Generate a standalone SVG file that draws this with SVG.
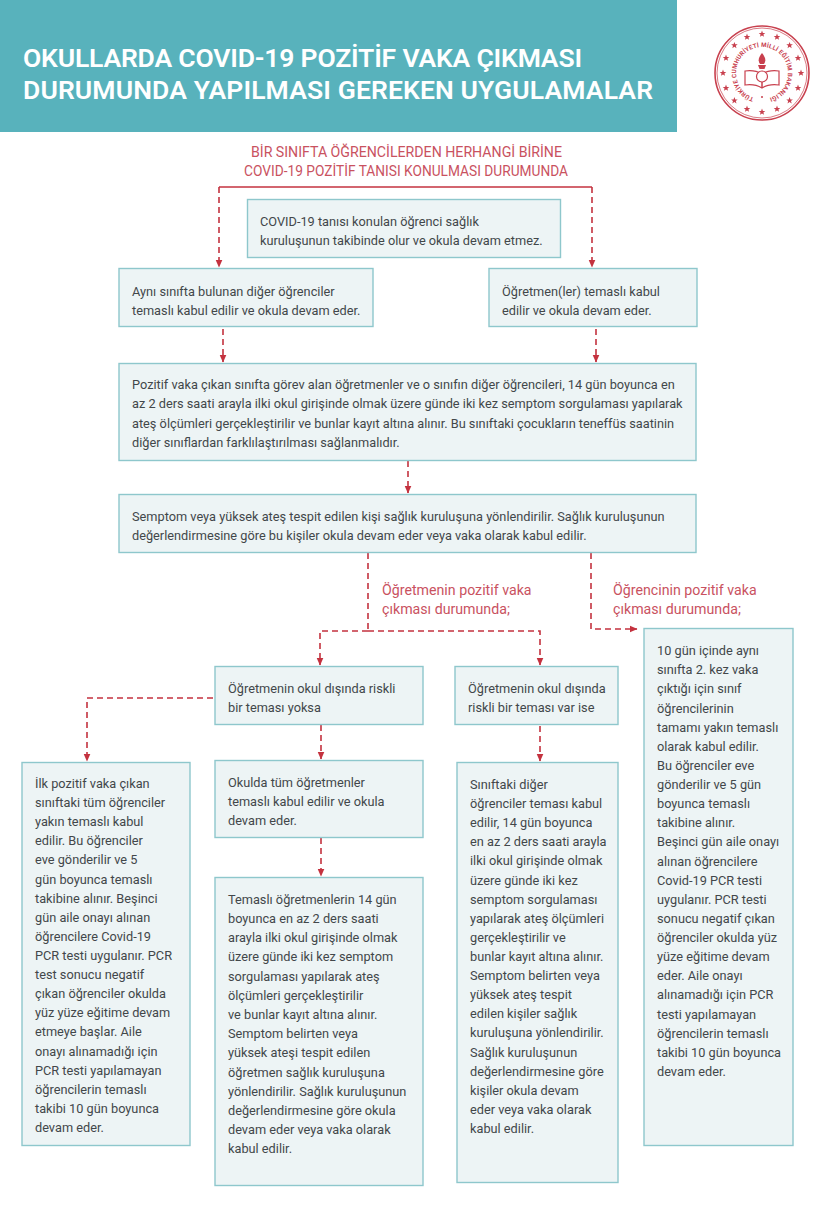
<svg xmlns="http://www.w3.org/2000/svg" width="828" height="1219" viewBox="0 0 828 1219">
<style>
text{font-family:"Roboto","Liberation Sans",sans-serif}
.box{fill:#edf4f5;stroke:#8ec7cc;stroke-width:1.4}
.t{font-size:12.75px;fill:#42474a}
.r{font-size:14.2px;fill:#c9525f}
.h{font-size:26.5px;font-weight:600;fill:#fff}
.c{fill:none;stroke:#c4323f;stroke-width:1.6;stroke-dasharray:6 4}
.s{fill:none;stroke:#c4323f;stroke-width:1.3}
.seal{fill:none;stroke:#c8404e}
.st{fill:#c8404e}
.sealt{font-size:6.2px;font-weight:700;fill:#c8404e}
</style>
<defs>
<marker id="a" viewBox="0 0 8 8" refX="7.5" refY="4" markerWidth="8" markerHeight="8" markerUnits="userSpaceOnUse" orient="auto"><path d="M0 .5L8 4L0 7.500Z" fill="#c4323f"/></marker>
<polygon id="star" points="0,-3.500 .9,-1.100 3.300,-1.100 1.400,.4 2.100,2.800 0,1.400 -2.100,2.800 -1.400,.4 -3.300,-1.100 -.9,-1.100"/>
<path id="arcp" d="M762,99A26,26 0 1 1 762.100,99"/>
</defs>
<g id="header">
<rect x="0" y="0" width="677" height="132" fill="#58b2bc"/>
<text class="h" x="23" y="67" textLength="559">OKULLARDA COVID-19 POZİTİF VAKA ÇIKMASI</text>
<text class="h" x="23" y="99" textLength="630">DURUMUNDA YAPILMASI GEREKEN UYGULAMALAR</text>
</g>
<g id="logo">
<circle class="seal" cx="762" cy="73" r="47" stroke-width="1.6"/>
<circle class="seal" cx="762" cy="73" r="45" stroke-width=".7"/>
<g class="st">
<use href="#star" x="762" y="34"/><use href="#star" x="777" y="37"/><use href="#star" x="789.600" y="45.400"/><use href="#star" x="798" y="58"/><use href="#star" x="801" y="73"/><use href="#star" x="798" y="88"/><use href="#star" x="789.600" y="100.600"/><use href="#star" x="777" y="109"/><use href="#star" x="762" y="112"/><use href="#star" x="747" y="109"/><use href="#star" x="734.400" y="100.600"/><use href="#star" x="726" y="88"/><use href="#star" x="723" y="73"/><use href="#star" x="726" y="58"/><use href="#star" x="734.400" y="45.400"/><use href="#star" x="747" y="37"/>
</g>
<text class="sealt"><textPath href="#arcp" startOffset="5%" textLength="147">TÜRKİYE CUMHURİYETİ MİLLİ EĞİTİM BAKANLIĞI</textPath></text>
<circle class="st" cx="762" cy="97" r="1"/>
<path class="st" d="M762 53c-4 5-4 8-2 11h4c2-3 2-6-2-11Z"/>
<path class="st" d="M758 65h8l-1.500 4h-5Z"/>
<path class="seal" stroke-width="1.200" d="M745 71c6-1 12 0 17 3c5-3 11-4 17-3v14c-6-1-12 0-17 3c-5-3-11-4-17-3Z"/>
<circle cx="762" cy="76.500" r="5.500" fill="#fff" stroke="#c8404e" stroke-width="1.200"/>
<path class="seal" stroke-width="1.500" d="M762 82v6"/>
</g>
<g id="title">
<text class="r" x="251" y="157" textLength="311">BİR SINIFTA ÖĞRENCİLERDEN HERHANGİ BİRİNE</text>
<text class="r" x="244" y="176" textLength="324" lengthAdjust="spacingAndGlyphs">COVID-19 POZİTİF TANISI KONULMASI DURUMUNDA</text>
</g>
<g id="connectors">
<path class="s" d="M219 187H592"/>
<path class="c" d="M219 187V267" marker-end="url(#a)"/>
<path class="c" d="M592 187V267" marker-end="url(#a)"/>
<path class="c" d="M223 329V362" marker-end="url(#a)"/>
<path class="c" d="M596 329V362" marker-end="url(#a)"/>
<path class="c" d="M408 461V493" marker-end="url(#a)"/>
<path class="c" d="M368 553V631"/>
<path class="c" d="M368 631H320V665" marker-end="url(#a)"/>
<path class="c" d="M368 631H540V665" marker-end="url(#a)"/>
<path class="c" d="M591 553V629H637" marker-end="url(#a)"/>
<path class="c" d="M213 698H87V761" marker-end="url(#a)"/>
<path class="c" d="M321 725V759" marker-end="url(#a)"/>
<path class="c" d="M321 838V876" marker-end="url(#a)"/>
<path class="c" d="M540 726V761" marker-end="url(#a)"/>
</g>
<g id="n1"><rect class="box" x="247.500" y="199.500" width="313" height="58"/><text class="t"><tspan x="260" y="226">COVID-19 tanısı konulan öğrenci sağlık</tspan><tspan x="260" y="245">kuruluşunun takibinde olur ve okula devam etmez.</tspan></text></g>
<g id="n2"><rect class="box" x="119" y="268.500" width="254" height="58"/><text class="t"><tspan x="132" y="296">Aynı sınıfta bulunan diğer öğrenciler</tspan><tspan x="132" y="315">temaslı kabul edilir ve okula devam eder.</tspan></text></g>
<g id="n3"><rect class="box" x="489" y="268.500" width="208" height="58"/><text class="t"><tspan x="502" y="296">Öğretmen(ler) temaslı kabul</tspan><tspan x="502" y="315">edilir ve okula devam eder.</tspan></text></g>
<g id="n4"><rect class="box" x="119" y="363.500" width="577" height="97"/><text class="t"><tspan x="132" y="389">Pozitif vaka çıkan sınıfta görev alan öğretmenler ve o sınıfın diğer öğrencileri, 14 gün boyunca en</tspan><tspan x="132" y="408">az 2 ders saati arayla ilki okul girişinde olmak üzere günde iki kez semptom sorgulaması yapılarak</tspan><tspan x="132" y="428">ateş ölçümleri gerçekleştirilir ve bunlar kayıt altına alınır. Bu sınıftaki çocukların teneffüs saatinin</tspan><tspan x="132" y="447">diğer sınıflardan farklılaştırılması sağlanmalıdır.</tspan></text></g>
<g id="n5"><rect class="box" x="119" y="494.500" width="577" height="58"/><text class="t"><tspan x="132" y="521">Semptom veya yüksek ateş tespit edilen kişi sağlık kuruluşuna yönlendirilir. Sağlık kuruluşunun</tspan><tspan x="132" y="540">değerlendirmesine göre bu kişiler okula devam eder veya vaka olarak kabul edilir.</tspan></text></g>
<text id="l1" class="r"><tspan x="382" y="595">Öğretmenin pozitif vaka</tspan><tspan x="382" y="614">çıkması durumunda;</tspan></text>
<text id="l2" class="r"><tspan x="613" y="595">Öğrencinin pozitif vaka</tspan><tspan x="613" y="614">çıkması durumunda;</tspan></text>
<g id="n6"><rect class="box" x="644" y="628.500" width="149" height="517"/><text class="t"><tspan x="657" y="655">10 gün içinde aynı</tspan><tspan x="657" y="674">sınıfta 2. kez vaka</tspan><tspan x="657" y="693">çıktığı için sınıf</tspan><tspan x="657" y="713">öğrencilerinin</tspan><tspan x="657" y="732">tamamı yakın temaslı</tspan><tspan x="657" y="751">olarak kabul edilir.</tspan><tspan x="657" y="770">Bu öğrenciler eve</tspan><tspan x="657" y="789">gönderilir ve 5 gün</tspan><tspan x="657" y="808">boyunca temaslı</tspan><tspan x="657" y="827">takibine alınır.</tspan><tspan x="657" y="846">Beşinci gün aile onayı</tspan><tspan x="657" y="866">alınan öğrencilere</tspan><tspan x="657" y="885">Covid-19 PCR testi</tspan><tspan x="657" y="904">uygulanır. PCR testi</tspan><tspan x="657" y="923">sonucu negatif çıkan</tspan><tspan x="657" y="942">öğrenciler okulda yüz</tspan><tspan x="657" y="961">yüze eğitime devam</tspan><tspan x="657" y="980">eder. Aile onayı</tspan><tspan x="657" y="999">alınamadığı için PCR</tspan><tspan x="657" y="1019">testi yapılamayan</tspan><tspan x="657" y="1038">öğrencilerin temaslı</tspan><tspan x="657" y="1057">takibi 10 gün boyunca</tspan><tspan x="657" y="1076">devam eder.</tspan></text></g>
<g id="n7"><rect class="box" x="215" y="666.500" width="208" height="58"/><text class="t"><tspan x="228" y="693">Öğretmenin okul dışında riskli</tspan><tspan x="228" y="712">bir teması yoksa</tspan></text></g>
<g id="n8"><rect class="box" x="455" y="666.500" width="163" height="58"/><text class="t"><tspan x="468" y="693">Öğretmenin okul dışında</tspan><tspan x="468" y="712">riskli bir teması var ise</tspan></text></g>
<g id="n9"><rect class="box" x="22" y="762.500" width="168" height="383"/><text class="t"><tspan x="35" y="788">İlk pozitif vaka çıkan</tspan><tspan x="35" y="807">sınıftaki tüm öğrenciler</tspan><tspan x="35" y="826">yakın temaslı kabul</tspan><tspan x="35" y="845">edilir. Bu öğrenciler</tspan><tspan x="35" y="864">eve gönderilir ve 5</tspan><tspan x="35" y="884">gün boyunca temaslı</tspan><tspan x="35" y="903">takibine alınır. Beşinci</tspan><tspan x="35" y="922">gün aile onayı alınan</tspan><tspan x="35" y="941">öğrencilere Covid-19</tspan><tspan x="35" y="960">PCR testi uygulanır. PCR</tspan><tspan x="35" y="979">test sonucu negatif</tspan><tspan x="35" y="998">çıkan öğrenciler okulda</tspan><tspan x="35" y="1017">yüz yüze eğitime devam</tspan><tspan x="35" y="1036">etmeye başlar. Aile</tspan><tspan x="35" y="1056">onayı alınamadığı için</tspan><tspan x="35" y="1075">PCR testi yapılamayan</tspan><tspan x="35" y="1094">öğrencilerin temaslı</tspan><tspan x="35" y="1113">takibi 10 gün boyunca</tspan><tspan x="35" y="1132">devam eder.</tspan></text></g>
<g id="n10"><rect class="box" x="215" y="760.500" width="208" height="77"/><text class="t"><tspan x="228" y="787">Okulda tüm öğretmenler</tspan><tspan x="228" y="806">temaslı kabul edilir ve okula</tspan><tspan x="228" y="825">devam eder.</tspan></text></g>
<g id="n11"><rect class="box" x="215" y="877.500" width="208" height="308"/><text class="t"><tspan x="228" y="904">Temaslı öğretmenlerin 14 gün</tspan><tspan x="228" y="923">boyunca en az 2 ders saati</tspan><tspan x="228" y="942">arayla ilki okul girişinde olmak</tspan><tspan x="228" y="961">üzere günde iki kez semptom</tspan><tspan x="228" y="981">sorgulaması yapılarak ateş</tspan><tspan x="228" y="1000">ölçümleri gerçekleştirilir</tspan><tspan x="228" y="1019">ve bunlar kayıt altına alınır.</tspan><tspan x="228" y="1038">Semptom belirten veya</tspan><tspan x="228" y="1057">yüksek ateşi tespit edilen</tspan><tspan x="228" y="1077">öğretmen sağlık kuruluşuna</tspan><tspan x="228" y="1096">yönlendirilir. Sağlık kuruluşunun</tspan><tspan x="228" y="1115">değerlendirmesine göre okula</tspan><tspan x="228" y="1134">devam eder veya vaka olarak</tspan><tspan x="228" y="1153">kabul edilir.</tspan></text></g>
<g id="n12"><rect class="box" x="457" y="762.500" width="161" height="420"/><text class="t"><tspan x="470" y="789">Sınıftaki diğer</tspan><tspan x="470" y="808">öğrenciler teması kabul</tspan><tspan x="470" y="827">edilir, 14 gün boyunca</tspan><tspan x="470" y="846">en az 2 ders saati arayla</tspan><tspan x="470" y="865">ilki okul girişinde olmak</tspan><tspan x="470" y="885">üzere günde iki kez</tspan><tspan x="470" y="904">semptom sorgulaması</tspan><tspan x="470" y="923">yapılarak ateş ölçümleri</tspan><tspan x="470" y="942">gerçekleştirilir ve</tspan><tspan x="470" y="961">bunlar kayıt altına alınır.</tspan><tspan x="470" y="980">Semptom belirten veya</tspan><tspan x="470" y="999">yüksek ateş tespit</tspan><tspan x="470" y="1018">edilen kişiler sağlık</tspan><tspan x="470" y="1037">kuruluşuna yönlendirilir.</tspan><tspan x="470" y="1057">Sağlık kuruluşunun</tspan><tspan x="470" y="1076">değerlendirmesine göre</tspan><tspan x="470" y="1095">kişiler okula devam</tspan><tspan x="470" y="1114">eder veya vaka olarak</tspan><tspan x="470" y="1133">kabul edilir.</tspan></text></g>
</svg>
